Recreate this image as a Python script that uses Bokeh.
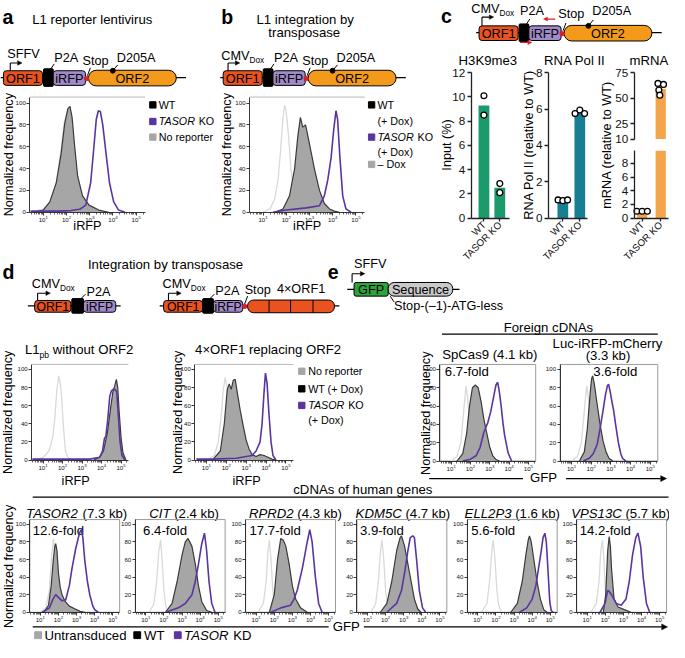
import math
import numpy as np
from bokeh.plotting import figure
from bokeh.models import (Range1d, FixedTicker, Arrow, NormalHead, LogScale, LinearScale, LogAxis,
                          LinearAxis)
from bokeh.core.properties import value
from bokeh.embed import file_html
from bokeh.resources import INLINE

# ======================= DATA (log10 intensity, % of max) =======================
DECADES = [1e1, 1e2, 1e3, 1e4, 1e5]
FREQ_TICKS = [0, 20, 40, 60, 80, 100]

# panel a
A_NR_X = [0.5, 1.0, 1.3, 1.55, 1.75, 1.9, 2.02, 2.12, 2.25, 2.4, 2.6, 2.85, 3.1]
A_NR_Y = [0, 3, 9, 25, 55, 82, 92, 88, 62, 30, 10, 3, 0]
A_WT_X = [0.6, 1.0, 1.28, 1.56, 1.77, 1.92, 2.06, 2.15, 2.24, 2.34, 2.48, 2.69, 2.97, 3.39, 3.82]
A_WT_Y = [0, 2, 9.5, 27, 54, 81, 95, 97, 87, 63, 33, 15, 6.5, 2, 0]
A_KO_X = [0.45, 1.0, 1.6, 2.2, 2.6, 2.83, 3.04, 3.18, 3.28, 3.37, 3.46, 3.56, 3.70, 3.85, 4.03, 4.24, 4.52]
A_KO_Y = [1, 1, 1, 1.5, 3, 6.5, 27, 60, 85, 93, 92, 80, 54, 27, 9.5, 2, 0]
# panel b
B_NR_X = [1.0, 1.3, 1.5, 1.65, 1.75, 1.85, 1.93, 2.0, 2.1, 2.2, 2.35, 2.5, 2.65]
B_NR_Y = [0, 3, 12, 30, 55, 85, 98, 92, 70, 40, 15, 4, 0]
B_WT_X = [1.5, 1.86, 2.14, 2.36, 2.5, 2.61, 2.71, 2.83, 2.93, 3.07, 3.21, 3.43, 3.64, 3.86, 4.07, 4.29]
B_WT_Y = [0, 3, 15, 40, 70, 87, 78, 80, 70, 55, 40, 20, 8, 3, 1, 0]
B_KO_X = [1.43, 2.0, 2.86, 3.43, 3.64, 3.79, 3.93, 4.04, 4.14, 4.21, 4.31, 4.43, 4.57, 4.79]
B_KO_Y = [0, 2, 4, 6, 15, 30, 50, 75, 93, 85, 50, 15, 3, 0]
# panel d, left
D1_NR_X = [0.6, 1.0, 1.3, 1.5, 1.6, 1.7, 1.8, 1.88, 1.95, 2.05, 2.15, 2.3, 2.45]
D1_NR_Y = [0, 3, 10, 25, 45, 75, 93, 85, 70, 35, 10, 2, 0]
D1_WT_X = [3.6, 3.9, 4.1, 4.3, 4.45, 4.58, 4.68, 4.76, 4.83, 4.9, 5.0, 5.1, 5.25]
D1_WT_Y = [0, 3, 10, 30, 55, 75, 82, 89, 80, 55, 25, 8, 0]
D1_KO_X = [0.45, 3.4, 3.9, 4.05, 4.15, 4.22, 4.32, 4.42, 4.5, 4.6, 4.7, 4.78, 4.86, 4.95, 5.05, 5.2]
D1_KO_Y = [1, 1, 3, 10, 24, 26, 45, 70, 76, 78, 78, 75, 50, 20, 5, 0]
# panel d, right
D2_NR_X = [1.0, 1.4, 1.6, 1.75, 1.85, 1.95, 2.05, 2.15, 2.25, 2.4, 2.55]
D2_NR_Y = [0, 5, 20, 50, 78, 91, 80, 45, 15, 3, 0]
D2_WT_X = [1.3, 1.7, 1.9, 2.05, 2.15, 2.25, 2.35, 2.45, 2.55, 2.7, 2.85, 3.0, 3.15, 3.3, 3.5, 3.7, 3.9, 4.1, 4.3, 4.5]
D2_WT_Y = [0, 10, 40, 78, 84, 78, 88, 89, 75, 55, 38, 22, 12, 6, 4, 6, 5, 3, 1, 0]
D2_KO_X = [0.5, 1.3, 2.5, 3.3, 3.5, 3.7, 3.8, 3.9, 3.97, 4.05, 4.15, 4.25, 4.35, 4.5]
D2_KO_Y = [1, 1, 2, 5, 10, 20, 40, 75, 96, 85, 50, 20, 5, 0]
# panel e
E1_NR_X = [1.0, 1.3, 1.5, 1.65, 1.77, 1.85, 1.95, 2.05, 2.2, 2.35]
E1_NR_Y = [0, 5, 20, 55, 82, 70, 40, 15, 3, 0]
E1_WT_X = [1.3, 1.6, 1.8, 1.95, 2.1, 2.25, 2.4, 2.55, 2.7, 2.85, 3.0, 3.15, 3.3, 3.5]
E1_WT_Y = [0, 8, 30, 60, 80, 83, 80, 65, 45, 30, 15, 6, 2, 0]
E1_KO_X = [1.6, 2.0, 2.3, 2.5, 2.7, 2.9, 3.05, 3.2, 3.32, 3.41, 3.5, 3.59, 3.68, 3.77, 3.95, 4.13]
E1_KO_Y = [0, 2, 6, 15, 32, 42, 54, 70, 83, 86, 75, 60, 42, 28, 9, 0]
E2_NR_X = [1.0, 1.3, 1.5, 1.65, 1.77, 1.85, 1.95, 2.05, 2.2, 2.35]
E2_NR_Y = [0, 5, 20, 55, 82, 70, 40, 15, 3, 0]
E2_WT_X = [1.4, 1.65, 1.8, 1.95, 2.02, 2.07, 2.15, 2.3, 2.45, 2.6, 2.75, 2.9, 3.1]
E2_WT_Y = [0, 10, 35, 75, 90, 93, 85, 62, 40, 22, 10, 3, 0]
E2_KO_X = [1.6, 1.9, 2.1, 2.3, 2.43, 2.6, 2.72, 2.82, 2.88, 2.97, 3.05, 3.14, 3.25, 3.38, 3.5, 3.59, 3.77]
E2_KO_Y = [0, 3, 8, 18, 33, 55, 72, 82, 84, 75, 65, 55, 38, 20, 8, 3, 0]
E_TITLES = ["SpCas9 (4.1 kb)", "Luc-iRFP-mCherry", "(3.3 kb)"]
E_FOLDS = ["6.7-fold", "3.6-fold"]
# cDNAs of human genes
R3_GENES = ["TASOR2", "CIT", "RPRD2", "KDM5C", "ELL2P3", "VPS13C"]
R3_SIZES = ["(7.3 kb)", "(2.4 kb)", "(4.3 kb)", "(4.7 kb)", "(1.6 kb)", "(5.7 kb)"]
R3_FOLDS = ["12.6-fold", "6.4-fold", "17.7-fold", "3.9-fold", "5.6-fold", "14.2-fold"]
TS_NR_X = [1.0, 1.3, 1.5, 1.63, 1.73, 1.83, 1.95, 2.1, 2.25]
TS_NR_Y = [0, 5, 25, 65, 84, 60, 25, 5, 0]
TS_WT_X = [1.2, 1.45, 1.6, 1.72, 1.8, 1.85, 1.92, 2.0, 2.1, 2.2, 2.35, 2.6, 2.9, 3.2, 3.45]
TS_WT_Y = [0, 8, 30, 60, 75, 78, 70, 45, 28, 20, 13, 7, 4, 1, 0]
TS_KO_X = [1.1, 1.5, 1.7, 1.85, 2.0, 2.2, 2.4, 2.6, 2.75, 2.95, 3.1, 3.2, 3.27, 3.35, 3.45, 3.6, 3.73, 3.9, 4.0, 4.2]
TS_KO_Y = [0, 5, 15, 20, 17, 13, 14, 30, 50, 72, 85, 92, 94, 85, 60, 35, 20, 7, 3, 0]
CI_NR_X = [1.2, 1.45, 1.6, 1.72, 1.82, 1.9, 2.0, 2.1, 2.25]
CI_NR_Y = [0, 10, 35, 70, 82, 60, 25, 8, 0]
CI_WT_X = [2.09, 2.45, 2.73, 3.0, 3.18, 3.33, 3.55, 3.73, 3.91, 4.09, 4.36, 4.64]
CI_WT_Y = [0, 10, 35, 65, 80, 84, 75, 55, 30, 12, 2, 0]
CI_KO_X = [2.1, 2.8, 3.18, 3.55, 3.73, 3.91, 4.09, 4.24, 4.36, 4.49, 4.64, 4.82]
CI_KO_Y = [0, 5, 10, 20, 35, 55, 78, 90, 70, 35, 10, 0]
RP_NR_X = [1.1, 1.4, 1.55, 1.65, 1.73, 1.82, 1.92, 2.05, 2.2]
RP_NR_Y = [0, 10, 35, 70, 82, 60, 25, 6, 0]
RP_WT_X = [1.73, 2.0, 2.18, 2.36, 2.5, 2.64, 2.82, 3.0, 3.18, 3.45, 3.82]
RP_WT_Y = [0, 20, 60, 84, 82, 75, 55, 30, 15, 5, 0]
RP_KO_X = [1.82, 2.36, 2.9, 3.09, 3.27, 3.55, 3.82, 3.96, 4.09, 4.27, 4.45, 4.64]
RP_KO_Y = [0, 5, 8, 15, 25, 50, 80, 94, 80, 40, 10, 0]
KD_NR_X = [1.2, 1.45, 1.6, 1.72, 1.8, 1.9, 2.0, 2.1, 2.25]
KD_NR_Y = [0, 10, 35, 70, 82, 60, 25, 8, 0]
KD_WT_X = [1.71, 2.07, 2.34, 2.61, 2.8, 2.88, 3.05, 3.23, 3.41, 3.59, 3.77, 3.95]
KD_WT_Y = [0, 10, 35, 70, 85, 87, 75, 55, 35, 15, 4, 0]
KD_KO_X = [2.07, 2.61, 2.88, 3.05, 3.23, 3.36, 3.5, 3.59, 3.71, 3.86, 4.04, 4.21]
KD_KO_Y = [0, 10, 25, 45, 70, 85, 87, 85, 60, 25, 5, 0]
EL_NR_X = [1.2, 1.5, 1.65, 1.77, 1.85, 1.95, 2.05, 2.15, 2.3]
EL_NR_Y = [0, 10, 35, 70, 82, 60, 25, 8, 0]
EL_WT_X = [2.82, 3.18, 3.45, 3.65, 3.78, 3.85, 3.95, 4.09, 4.27, 4.45, 4.64, 4.82]
EL_WT_Y = [0, 10, 35, 65, 82, 87, 80, 60, 35, 15, 3, 0]
EL_KO_X = [3.3, 3.7, 4.0, 4.2, 4.35, 4.5, 4.6, 4.7, 4.78, 4.88, 4.97, 5.05, 5.15]
EL_KO_Y = [0, 5, 15, 30, 50, 70, 85, 90, 80, 45, 12, 2, 0]
VP_NR_X = [1.2, 1.5, 1.65, 1.75, 1.84, 1.93, 2.02, 2.12, 2.25]
VP_NR_Y = [0, 10, 35, 70, 82, 55, 20, 5, 0]
VP_WT_X = [1.89, 2.02, 2.13, 2.21, 2.28, 2.34, 2.48, 2.7, 3.05, 3.41]
VP_WT_Y = [0, 20, 70, 86, 75, 50, 15, 6, 3, 0]
VP_KO_X = [1.71, 1.98, 2.13, 2.2, 2.34, 2.6, 2.88, 3.14, 3.32, 3.5, 3.68, 3.8, 3.95, 4.09, 4.27, 4.45]
VP_KO_Y = [0, 10, 25, 24, 20, 10, 8, 15, 35, 65, 85, 90, 75, 40, 10, 0]

# panel c (bar charts)
C_GROUPS = ["WT", "TASOR KO"]
H3_MEAN = [9.3, 2.5]
H3_PTS = [[10.1, 8.5], [2.85, 2.1]]
H3_TICKS = [0, 2, 4, 6, 8, 10, 12]
POL_MEAN = [0.97, 5.8]
POL_PTS = [[1.0, 0.96, 1.0], [5.75, 5.95, 5.75]]
POL_TICKS = [0, 2, 4, 6, 8]
MRNA_MEAN = [1.0, 59.0]
MRNA_PTS = [[1.0, 1.0, 1.0], [64.5, 63.5, 58.0, 53.0]]
MRNA_TOP_TICKS = [10, 25, 50, 75]
MRNA_BOT_TICKS = [0, 2, 4, 6, 8]

# ======================= STYLE / LAYOUT =======================
W_REF, H_REF = 685, 658
S = 0.976
FONT = "Liberation Sans"
C_ORF1, C_IRFP, C_ORF2 = "#e8531f", "#a08bc8", "#f39a1b"
C_GFP, C_SEQ, C_RED = "#2ea33c", "#c9c9c9", "#d7202a"
C_NR, C_WTF, C_WTL, C_KO = "#d9d9d9", "#a6a6a6", "#3a3a3a", "#5a35a0"
C_H3, C_POL, C_MRNA = "#1b9a6c", "#177e93", "#f4a44b"
AX = "#222222"
XLO, XHI, YTOP = 0.42, 5.38, 105.5


def fs(v):
    return f"{v * S:.2f}px"


AW = {' ': 278, '(': 333, ')': 333, '-': 333, '.': 278, '–': 556, '×': 584, '%': 889}
for ch in "0123456789":
    AW[ch] = 556
AW.update(dict(zip("ABCDEFGHIJKLMNOPQRSTUVWXYZ",
                   [667, 667, 722, 722, 667, 611, 778, 722, 278, 500, 667, 556, 833, 722, 778, 667, 778, 722, 667, 611,
                    722, 667, 944, 667, 667, 611])))
AW.update(dict(zip("abcdefghijklmnopqrstuvwxyz",
                   [556, 556, 500, 556, 556, 278, 556, 556, 222, 222, 500, 222, 833, 556, 556, 556, 556, 333, 500, 278,
                    556, 500, 722, 500, 500, 500])))


def tw(s, size):
    return sum(AW.get(c, 556) for c in s) / 1000.0 * size


bg = figure(width=669, height=642, x_range=Range1d(0, W_REF), y_range=Range1d(H_REF, 0),
            x_axis_location=None, y_axis_location=None, output_backend="svg", toolbar_location=None,
            min_border=0, outline_line_color=None, title=None, background_fill_color="white",
            border_fill_color="white")
bg.xgrid.visible = False
bg.ygrid.visible = False
XR, XS, YR = {}, {}, {}


def T(x, y, s, size=13.5, align="left", base="middle", style="normal", color="black", angle=0.0):
    bg.text(x=[x], y=[y], text=[s], text_font=value(FONT), text_font_size=fs(size), text_align=align,
            text_baseline=base, text_font_style=style, text_color=color, angle=angle)


def rich(x, y, parts, size=13.5, align="left"):
    widths = [tw(p[0], size * p[2]) for p in parts]
    tot = sum(widths)
    x0 = x - tot / 2 if align == "center" else x
    for (s, st, rs, dy), w in zip(parts, widths):
        stripped = s.lstrip(" ")
        lead = tw(s[:len(s) - len(stripped)], size * rs)
        T(x0 + lead, y + dy, stripped, size * rs, "left", "middle", st)
        x0 += w


def seg(x0, y0, x1, y1, color="black", lw=1.0):
    bg.line([x0, x1], [y0, y1], line_color=color, line_width=lw)


def box(x0, x1, yc, h, color, r=2.0):
    bg.quad(left=[x0], right=[x1], top=[yc - h / 2], bottom=[yc + h / 2], fill_color=color,
            line_color="black", line_width=1.0, border_radius=int(round(r * S)))


def arrow(x0, y0, x1, y1, color="black", size=5, lw=1.2):
    bg.add_layout(Arrow(x_start=x0, y_start=y0, x_end=x1, y_end=y1, line_color=color, line_width=lw,
                        end=NormalHead(size=size * S, fill_color=color, line_color=color, line_width=0.5)))


def promoter(xv, ytop, yh, xend):
    seg(xv, ytop, xv, yh, lw=1.1)
    arrow(xv, yh, xend, yh, lw=1.1, size=4.5)


def l1_construct(ox, oy, p2a_dx=55, ldy=-20):
    seg(ox, oy, ox + 190, oy, lw=1.2)
    box(ox + 3, ox + 43, oy + 0.5, 15, C_ORF1, 3)
    T(ox + 23, oy + 1, "ORF1", 13, "center")
    box(ox + 44, ox + 54, oy, 18, "black", 1)
    box(ox + 54, ox + 87, oy + 0.5, 15, C_IRFP, 3)
    T(ox + 70.5, oy + 1, "iRFP", 13, "center")
    box(ox + 90, ox + 180, oy + 0.5, 16, C_ORF2, 8)
    T(ox + 135, oy + 1, "ORF2", 13, "center")
    bg.scatter([ox + 88], [oy + 1], size=4.5 * S, color=C_RED)
    T(ox + p2a_dx, oy + ldy, "P2A", 13)
    seg(ox + 51, oy - 8, ox + 55, oy - 14)
    T(ox + 84, oy + ldy + 3, "Stop", 13)
    seg(ox + 89, oy - 2, ox + 92, oy - 10)
    bg.scatter([ox + 115], [oy - 7], size=5 * S, color="black")
    seg(ox + 115, oy - 7, ox + 120, oy - 13)
    T(ox + 119, oy + ldy, "D205A", 13)


# ---------------- row 1 texts & schematics ----------------
for lx, ly, letter in [(2, 17, "a"), (226, 17, "b"), (451, 16, "c"), (2, 278, "d"), (335, 278, "e")]:
    T(lx, ly, letter, 20, "left", "alphabetic", "bold")
T(94, 19, "L1 reporter lentivirus", 13.5, "center")
T(312, 19, "L1 integration by", 13.5, "center")
T(311, 33, "transposase", 13.5, "center")

l1_construct(0, 79)
T(7, 55, "SFFV", 13)
promoter(10, 72, 64, 22)
l1_construct(225, 79)
rich(226, 57, [("CMV", "normal", 1, 0), ("Dox", "normal", 0.65, 4)], 13)
promoter(233, 72, 64, 245)
l1_construct(487, 33, p2a_dx=45, ldy=-22)
rich(482, 9, [("CMV", "normal", 1, 0), ("Dox", "normal", 0.65, 4)], 13)
promoter(493, 26, 17, 505)
arrow(568, 19, 556, 19, color=C_RED, size=4, lw=1.2)
arrow(532, 43, 544, 43, color=C_RED, size=4, lw=1.2)

# legends a, b
for yy, col in [(107, "black"), (124, C_KO), (140, C_WTF)]:
    bg.scatter([156], [yy], marker="square", size=6.5 * S, color=col)
T(162, 107, "WT", 11)
rich(162, 124, [("TASOR", "italic", 1, 0), (" KO", "normal", 1, 0)], 11)
T(162, 140, "No reporter", 11)
for yy, col in [(107, "black"), (140, C_KO), (168, C_WTF)]:
    bg.scatter([380], [yy], marker="square", size=6.5 * S, color=col)
T(386, 107, "WT", 11)
T(386, 123, "(+ Dox)", 11)
rich(386, 140, [("TASOR", "italic", 1, 0), (" KO", "normal", 1, 0)], 11)
T(386, 155, "(+ Dox)", 11)
T(386, 168, "– Dox", 11)

T(9, 158, "Normalized frequency", 13, "center", angle=math.pi / 2)
T(232, 158, "Normalized frequency", 13, "center", angle=math.pi / 2)
T(89, 231, "iRFP", 13, "center")
T(314, 231, "iRFP", 13, "center")
# panel c titles
T(499, 62, "H3K9me3", 13.5, "center")
T(588, 62, "RNA Pol II", 13.5, "center")
T(664, 62, "mRNA", 13.5, "center")
T(457, 148, "Input (%)", 13, "center", angle=math.pi / 2)
T(541, 148, "RNA Pol II (relative to WT)", 13, "center", angle=math.pi / 2)
T(621, 148, "mRNA (relative to WT)", 13, "center", angle=math.pi / 2)

# ---------------- row 2 ----------------
T(169, 271, "Integration by transposase", 13.5, "center")
seg(28, 313, 123, 313, lw=1.2)
box(35, 72, 313.5, 12, C_ORF1, 3)
T(53.5, 314, "ORF1", 12.5, "center")
box(73, 85, 313, 15, "black", 1)
box(85, 118, 313.5, 12, C_IRFP, 3)
T(101.5, 314, "iRFP", 12.5, "center")
rich(32, 291, [("CMV", "normal", 1, 0), ("Dox", "normal", 0.65, 4)], 13)
promoter(38, 307.5, 300, 51)
T(88, 299, "P2A", 13)
seg(82, 306, 87, 301)

seg(163, 313, 347, 313, lw=1.2)
box(167, 207, 313.5, 12, C_ORF1, 3)
T(187, 314, "ORF1", 12.5, "center")
box(207, 218, 313, 15, "black", 1)
box(218, 248, 313.5, 12, C_IRFP, 3)
T(233, 314, "iRFP", 12.5, "center")
box(253, 342, 313.5, 13, C_ORF1, 6.5)
for xd in [275, 297, 320]:
    seg(xd, 307, xd, 320)
bg.scatter([250], [313.5], size=4.5 * S, color=C_RED)
rich(166, 291, [("CMV", "normal", 1, 0), ("Dox", "normal", 0.65, 4)], 13)
promoter(172, 307.5, 300, 185)
T(220, 298, "P2A", 13)
seg(214, 306, 219, 301)
T(250, 297, "Stop", 13)
seg(250, 311, 253, 303)
T(283, 296, "4×ORF1", 13)

rich(25, 358, [("L1", "normal", 1, 0), ("pb", "normal", 0.65, 5), (" without ORF2", "normal", 1, 0)], 13.5)
T(274, 358, "4×ORF1 replacing ORF2", 13.5, "center")
T(8, 422, "Normalized frequency", 13, "center", angle=math.pi / 2)
T(182, 422, "Normalized frequency", 13, "center", angle=math.pi / 2)
T(77, 492, "iRFP", 13, "center")
T(252, 492, "iRFP", 13, "center")
for yy, col in [(380, C_WTF), (398, "black"), (415, C_KO)]:
    bg.scatter([308.5], [yy], marker="square", size=6.5 * S, color=col)
T(315, 380, "No reporter", 11)
T(315, 398, "WT (+ Dox)", 11)
rich(315, 415, [("TASOR", "italic", 1, 0), (" KO", "normal", 1, 0)], 11)
T(315, 430, "(+ Dox)", 11)

# e construct
T(362, 270, "SFFV", 13)
promoter(360, 289, 280, 373)
seg(355, 296, 470, 296, lw=1.2)
box(362, 397, 296, 14, C_GFP, 2)
T(379.5, 296.5, "GFP", 13, "center")
box(397, 463, 296, 14, C_SEQ, 6)
T(430, 296.5, "Sequence", 13, "center")
seg(399, 303, 403, 309)
T(403, 313, "Stop-(–1)-ATG-less", 13)
T(561, 335, "Foreign cDNAs", 13.5, "center")
seg(452, 342, 673, 342, lw=1.3)
T(501, 363, E_TITLES[0], 13.5, "center")
T(621.5, 352, E_TITLES[1], 13.5, "center")
T(622, 363.5, E_TITLES[2], 13.5, "center")
T(455, 380, E_FOLDS[0], 13.5)
T(607, 380, E_FOLDS[1], 13.5)
T(436, 423, "Normalized frequency", 13, "center", angle=math.pi / 2)
seg(439, 490, 535, 490, lw=1.3)
T(556, 489, "GFP", 13.5, "center")
arrow(579, 490, 682, 490, size=6, lw=1.3)

# ---------------- row 3 ----------------
T(371, 501, "cDNAs of human genes", 13.5, "center")
seg(33, 509, 684, 509, lw=1.3)
R3_L = [30, 138, 251, 365, 478, 590]
R3_TC = [78, 188, 302, 412, 524, 635]
R3_FL = [33, 146, 255, 368, 482, 593]
for i in range(6):
    rich(R3_TC[i], 526, [(R3_GENES[i], "italic", 1, 0), (" " + R3_SIZES[i], "normal", 1, 0)], 13.5, "center")
    T(R3_FL[i], 543, R3_FOLDS[i], 13.5)
T(9, 580, "Normalized frequency", 13, "center", angle=math.pi / 2)
seg(33, 642, 336, 642, lw=1.3)
T(354, 642, "GFP", 13.5, "center")
arrow(372, 642, 683, 642, size=6, lw=1.3)
for xx, col in [(38.5, C_WTF), (140, "black"), (181.5, C_KO)]:
    bg.scatter([xx], [650.5], marker="square", size=7 * S, color=col)
T(45, 650.5, "Untransduced", 13.5)
T(147, 650.5, "WT", 13.5)
rich(188, 650.5, [("TASOR", "italic", 1, 0), (" KD", "normal", 1, 0)], 13.5)


# ======================= panels: own scales & axes =======================
def xlog_range(L, R):
    k = (XHI - XLO) / (R - L)
    return Range1d(10 ** (XLO - L * k), 10 ** (XLO + (W_REF - L) * k))


def xlin_range(L, R, x0, x1):
    k = (x1 - x0) / (R - L)
    return Range1d(x0 - L * k, x0 + (W_REF - L) * k)


def ylin_range(Tp, B, v0, v1):
    m = (v1 - v0) / (B - Tp)
    return Range1d(v0 + (B - H_REF) * m, v0 + B * m)


def style_axis(ax, size, tick_out=3, minor_out=0, lw=1.0, standoff=1):
    ax.axis_line_color = AX
    ax.axis_line_width = lw
    ax.major_tick_line_color = AX
    ax.major_tick_line_width = lw
    ax.major_tick_in = 0
    ax.major_tick_out = int(tick_out)
    ax.minor_tick_in = 0
    ax.minor_tick_out = int(minor_out)
    ax.minor_tick_line_color = AX if minor_out else None
    ax.minor_tick_line_width = 0.7
    ax.major_label_text_font = FONT
    ax.major_label_text_font_size = fs(size)
    ax.major_label_text_color = "#111111"
    ax.major_label_standoff = standoff


MINORS = [m * 10.0 ** k for k in range(0, 6) for m in range(2, 10) if XLO <= math.log10(m * 10.0 ** k) <= XHI]


def hist(name, L, R, Tp, B, nr, wt, ko, boxed):
    xn, yn = name + "_x", name + "_y"
    XR[xn] = xlog_range(L, R)
    XS[xn] = LogScale()
    YR[yn] = ylin_range(Tp, B, 0, YTOP)
    kw = dict(x_range_name=xn, y_range_name=yn)
    xlo, xhi = 10 ** XLO, 10 ** XHI
    if boxed:
        bg.quad(left=[xlo], right=[xhi], bottom=[0], top=[YTOP], fill_color=None, line_color="#9a9a9a",
                line_width=1, **kw)
    else:
        bg.line([xlo, xhi], [YTOP, YTOP], line_color="#b8b8b8", line_width=1, **kw)
    bg.line(10 ** np.array(nr[0]), nr[1], line_color=C_NR, line_width=1.3, **kw)
    bg.varea(x=10 ** np.array(wt[0]), y1=0, y2=wt[1], fill_color=C_WTF, **kw)
    bg.line(10 ** np.array(wt[0]), wt[1], line_color=C_WTL, line_width=1.2, **kw)
    bg.line(10 ** np.array(ko[0]), ko[1], line_color=C_KO, line_width=1.6, **kw)
    xa = LogAxis(x_range_name=xn, fixed_location=B, bounds=(xlo, xhi),
                 ticker=FixedTicker(ticks=DECADES, minor_ticks=MINORS))
    style_axis(xa, 6.3, 3, 2, 0.9)
    bg.add_layout(xa, "below")
    ya = LinearAxis(y_range_name=yn, fixed_location=L, bounds=(0, YTOP), ticker=FixedTicker(ticks=FREQ_TICKS))
    style_axis(ya, 6.3, 3, 0, 0.9)
    bg.add_layout(ya, "left")


hist("a", 30, 148, 99, 217, (A_NR_X, A_NR_Y), (A_WT_X, A_WT_Y), (A_KO_X, A_KO_Y), False)
hist("b", 255, 373, 99, 217, (B_NR_X, B_NR_Y), (B_WT_X, B_WT_Y), (B_KO_X, B_KO_Y), False)
hist("d1", 32, 131, 373, 471, (D1_NR_X, D1_NR_Y), (D1_WT_X, D1_WT_Y), (D1_KO_X, D1_KO_Y), False)
hist("d2", 199, 300, 373, 471, (D2_NR_X, D2_NR_Y), (D2_WT_X, D2_WT_Y), (D2_KO_X, D2_KO_Y), False)
hist("e1", 450, 548, 373, 472, (E1_NR_X, E1_NR_Y), (E1_WT_X, E1_WT_Y), (E1_KO_X, E1_KO_Y), True)
hist("e2", 573, 673, 373, 472, (E2_NR_X, E2_NR_Y), (E2_WT_X, E2_WT_Y), (E2_KO_X, E2_KO_Y), True)
R3_DATA = [
    ((TS_NR_X, TS_NR_Y), (TS_WT_X, TS_WT_Y), (TS_KO_X, TS_KO_Y)),
    ((CI_NR_X, CI_NR_Y), (CI_WT_X, CI_WT_Y), (CI_KO_X, CI_KO_Y)),
    ((RP_NR_X, RP_NR_Y), (RP_WT_X, RP_WT_Y), (RP_KO_X, RP_KO_Y)),
    ((KD_NR_X, KD_NR_Y), (KD_WT_X, KD_WT_Y), (KD_KO_X, KD_KO_Y)),
    ((EL_NR_X, EL_NR_Y), (EL_WT_X, EL_WT_Y), (EL_KO_X, EL_KO_Y)),
    ((VP_NR_X, VP_NR_Y), (VP_WT_X, VP_WT_Y), (VP_KO_X, VP_KO_Y)),
]
for i, (nr, wt, ko) in enumerate(R3_DATA):
    hist("r3_%d" % i, R3_L[i], R3_L[i] + 92, 532, 627, nr, wt, ko, True)

JIT = {2: [0.0, 0.0], 3: [-0.28, 0.0, 0.28], 4: [-0.15, 0.15, -0.1, -0.05]}


def barpanel(name, L, R, Tp, B, xr, yr, yticks, means, pts, color, bw, show_x):
    xn, yn = name + "_x", name + "_y"
    XR[xn] = xlin_range(L, R, *xr)
    XS[xn] = LinearScale()
    YR[yn] = ylin_range(Tp, B, *yr)
    kw = dict(x_range_name=xn, y_range_name=yn)
    lo, hi = yr
    bx, btop, bbot = [], [], []
    for i, m in enumerate(means):
        top, bot = min(m, hi), max(0, lo)
        if top > bot:
            bx.append(i + 1)
            btop.append(top)
            bbot.append(bot)
    bg.vbar(x=bx, top=btop, bottom=bbot, width=bw, fill_color=color, line_color=None, **kw)
    px, py = [], []
    for gi, grp in enumerate(pts):
        for j, v in enumerate(grp):
            if lo <= v <= hi:
                px.append(gi + 1 + JIT[len(grp)][j])
                py.append(v)
    bg.scatter(px, py, marker="circle", size=6 * S, fill_color="white", line_color="black", line_width=1.3, **kw)
    ya = LinearAxis(y_range_name=yn, fixed_location=L, bounds=yr, ticker=FixedTicker(ticks=yticks))
    style_axis(ya, 12, 4, 0, 1.3, 2)
    bg.add_layout(ya, "left")
    if show_x:
        xa = LinearAxis(x_range_name=xn, fixed_location=B, bounds=xr, ticker=FixedTicker(ticks=[1, 2]),
                        major_label_overrides={1: C_GROUPS[0], 2: C_GROUPS[1]},
                        major_label_orientation=math.pi / 4)
        style_axis(xa, 10, 3, 0, 1.3, 2)
        bg.add_layout(xa, "below")


barpanel("h3", 482, 521, 74, 223, (0.2, 2.6), (0, 12), H3_TICKS, H3_MEAN, H3_PTS, C_H3, 0.68, True)
barpanel("pol", 561, 601, 74, 223, (0.15, 2.45), (0, 8), POL_TICKS, POL_MEAN, POL_PTS, C_POL, 0.63, True)
barpanel("mt", 649, 684, 74, 142, (0.58, 2.42), (10, 75), MRNA_TOP_TICKS, MRNA_MEAN, MRNA_PTS, C_MRNA, 0.55,
         False)
barpanel("mb", 649, 684, 154, 223, (0.58, 2.42), (0, 9.86), MRNA_BOT_TICKS, MRNA_MEAN, MRNA_PTS, C_MRNA, 0.55,
         True)

bg.extra_x_ranges = XR
bg.extra_x_scales = XS
bg.extra_y_ranges = YR

open("out.html", "w").write(file_html(bg, INLINE))
